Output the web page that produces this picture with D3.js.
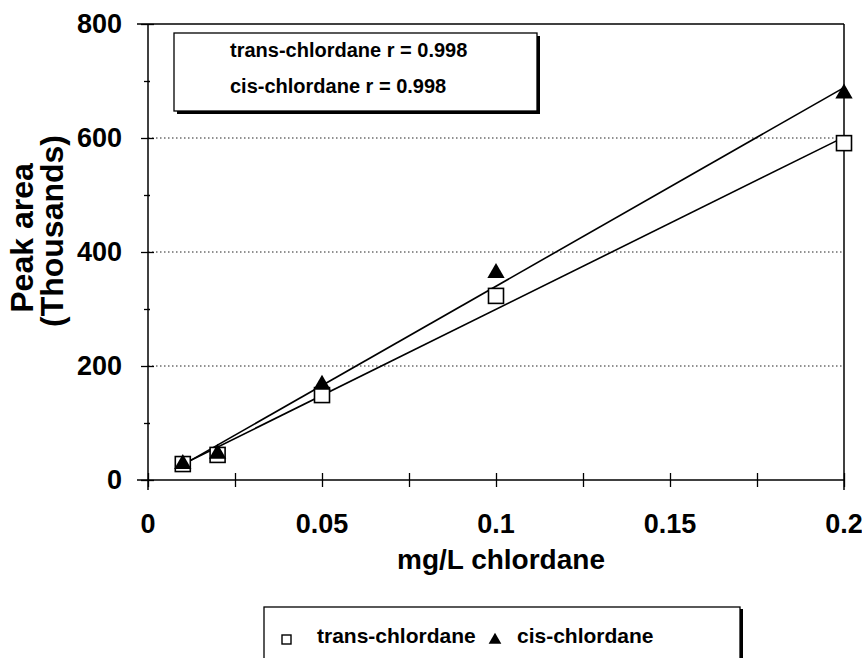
<!DOCTYPE html>
<html>
<head>
<meta charset="utf-8">
<script src="https://cdn.jsdelivr.net/npm/d3@7"></script>
<style>
  html, body { margin: 0; padding: 0; background: #fff; }
  svg { display: block; }
  text { font-family: "Liberation Sans", Arial, sans-serif; fill: #000; }
</style>
</head>
<body>
<svg id="chart" width="862" height="658"></svg>
<script>
// ---- data ----
const concentrations = [0.01, 0.02, 0.05, 0.1, 0.2];
const transValues = [28, 44, 149, 323, 591];
const cisValues = [28, 46, 167, 363, 678];
const seriesNames = ["trans-chlordane", "cis-chlordane"];
const rLabels = ["trans-chlordane r = 0.998", "cis-chlordane r = 0.998"];
const xTickValues = [0, 0.05, 0.1, 0.15, 0.2];
const xTickLabels = ["0", "0.05", "0.1", "0.15", "0.2"];
const xMinorTicks = [0.025, 0.075, 0.125, 0.175];
const yTickValues = [0, 200, 400, 600, 800];
const yTickLabels = ["0", "200", "400", "600", "800"];
const yMinorTicks = [100, 300, 500, 700];
const gridValues = [200, 400, 600];

const svg = d3.select("#chart");
const x = d3.scaleLinear().domain([0, 0.2]).range([148, 844]);
const y = d3.scaleLinear().domain([0, 800]).range([480, 24]);

// least-squares fit for each series
function fit(xs, ys) {
  const mx = d3.mean(xs), my = d3.mean(ys);
  let sxy = 0, sxx = 0;
  xs.forEach((v, i) => { sxy += (v - mx) * (ys[i] - my); sxx += (v - mx) * (v - mx); });
  const b = sxy / sxx;
  return { b, a: my - b * mx };
}

// gridlines (dotted)
svg.append("g").selectAll("line").data(gridValues).join("line")
  .attr("x1", x(0)).attr("x2", x(0.2))
  .attr("y1", d => y(d)).attr("y2", d => y(d))
  .attr("stroke", "#222").attr("stroke-width", 1).attr("stroke-dasharray", "1.5,2.5");

// frame lines: top and right
svg.append("line").attr("x1", x(0) - 11).attr("x2", x(0.2)).attr("y1", y(800)).attr("y2", y(800))
  .attr("stroke", "#000").attr("stroke-width", 1.5);
svg.append("line").attr("x1", x(0.2)).attr("x2", x(0.2)).attr("y1", y(800)).attr("y2", y(0) + 10)
  .attr("stroke", "#000").attr("stroke-width", 1.5);

// x axis: crossing ticks
const xAxisG = svg.append("g").attr("transform", `translate(0,${y(0)})`);
xAxisG.call(d3.axisBottom(x).tickValues(xTickValues.concat(xMinorTicks)).tickSize(7).tickFormat(""));
const xAxisG2 = svg.append("g").attr("transform", `translate(0,${y(0)})`);
xAxisG2.call(d3.axisTop(x).tickValues(xTickValues.concat(xMinorTicks)).tickSize(7).tickFormat(""));
[xAxisG, xAxisG2].forEach(g => {
  g.select(".domain").remove();
  g.selectAll("line").attr("stroke", "#000").attr("stroke-width", 1.3);
});
svg.append("line").attr("x1", x(0) - 11).attr("x2", x(0.2)).attr("y1", y(0)).attr("y2", y(0))
  .attr("stroke", "#000").attr("stroke-width", 1.5);
svg.append("g").selectAll("text").data(xTickValues).join("text")
  .attr("x", d => x(d)).attr("y", 533)
  .attr("text-anchor", "middle")
  .style("font-size", "27px").style("font-weight", "bold")
  .text((d, i) => xTickLabels[i]);

// y axis: crossing ticks
const yAxisL = svg.append("g").attr("transform", `translate(${x(0)},0)`);
yAxisL.call(d3.axisLeft(y).tickValues(yTickValues).tickSize(7).tickFormat(""));
const yAxisR = svg.append("g").attr("transform", `translate(${x(0)},0)`);
yAxisR.call(d3.axisRight(y).tickValues(yTickValues).tickSize(6).tickFormat(""));
const yAxisMinor = svg.append("g").attr("transform", `translate(${x(0)},0)`);
yAxisMinor.call(d3.axisLeft(y).tickValues(yMinorTicks).tickSize(4).tickFormat(""));
const yAxisMinorR = svg.append("g").attr("transform", `translate(${x(0)},0)`);
yAxisMinorR.call(d3.axisRight(y).tickValues(yMinorTicks).tickSize(2).tickFormat(""));
[yAxisL, yAxisR, yAxisMinor, yAxisMinorR].forEach(g => {
  g.select(".domain").remove();
  g.selectAll("line").attr("stroke", "#000").attr("stroke-width", 1.3);
});
svg.append("line").attr("x1", x(0)).attr("x2", x(0)).attr("y1", y(800)).attr("y2", y(0) + 10)
  .attr("stroke", "#000").attr("stroke-width", 1.5);
svg.append("g").selectAll("text").data(yTickValues).join("text")
  .attr("x", 122).attr("y", d => y(d))
  .attr("dy", "0.35em")
  .attr("text-anchor", "end")
  .style("font-size", "27px").style("font-weight", "bold")
  .text((d, i) => yTickLabels[i]);

// axis titles
svg.append("text").attr("x", 397).attr("y", 569)
  .style("font-size", "28px").style("font-weight", "bold").text("mg/L chlordane");
svg.append("text").attr("transform", "translate(33,238) rotate(-90)")
  .attr("text-anchor", "middle")
  .style("font-size", "32px").style("font-weight", "bold").text("Peak area");
svg.append("text").attr("transform", "translate(63,231) rotate(-90)")
  .attr("text-anchor", "middle")
  .style("font-size", "32px").style("font-weight", "bold").text("(Thousands)");

// regression lines
const fits = [fit(concentrations, transValues), fit(concentrations, cisValues)];
const xMin = d3.min(concentrations), xMax = d3.max(concentrations);
svg.append("g").selectAll("line").data(fits).join("line")
  .attr("x1", x(xMin)).attr("y1", f => y(f.a + f.b * xMin))
  .attr("x2", x(xMax)).attr("y2", f => y(f.a + f.b * xMax))
  .attr("stroke", "#000").attr("stroke-width", 1.6);

// markers
const sq = 15;
svg.append("g").selectAll("rect").data(concentrations).join("rect")
  .attr("x", d => x(d) - sq / 2).attr("y", (d, i) => y(transValues[i]) - sq / 2)
  .attr("width", sq).attr("height", sq)
  .attr("fill", "#fff").attr("stroke", "#000").attr("stroke-width", 1.6);
const tri = d3.symbol().type(d3.symbolTriangle).size(130);
svg.append("g").selectAll("path").data(concentrations).join("path")
  .attr("d", tri)
  .attr("transform", (d, i) => `translate(${x(d)},${y(cisValues[i])})`)
  .attr("fill", "#000");

// r-value box with shadow
svg.append("rect").attr("x", 177).attr("y", 36).attr("width", 363).attr("height", 78).attr("fill", "#000");
svg.append("rect").attr("x", 174).attr("y", 33).attr("width", 363).attr("height", 78)
  .attr("fill", "#fff").attr("stroke", "#000").attr("stroke-width", 1.3);
svg.append("g").selectAll("text").data(rLabels).join("text")
  .attr("x", 230).attr("y", (d, i) => 57 + i * 36)
  .style("font-size", "20px").style("font-weight", "bold")
  .text(d => d);

// legend box
svg.append("rect").attr("x", 267).attr("y", 609).attr("width", 476).attr("height", 70).attr("fill", "#000");
svg.append("rect").attr("x", 264).attr("y", 607).attr("width", 476).attr("height", 70)
  .attr("fill", "#fff").attr("stroke", "#000").attr("stroke-width", 1.3);
svg.append("rect").attr("x", 282).attr("y", 635).attr("width", 9).attr("height", 9)
  .attr("fill", "#fff").attr("stroke", "#000").attr("stroke-width", 1.4);
svg.append("path").attr("d", d3.symbol().type(d3.symbolTriangle).size(70))
  .attr("transform", "translate(495,640)").attr("fill", "#000");
svg.append("text").attr("x", 317).attr("y", 643)
  .style("font-size", "21px").style("font-weight", "bold").text(seriesNames[0]);
svg.append("text").attr("x", 517).attr("y", 643)
  .style("font-size", "21px").style("font-weight", "bold").text(seriesNames[1]);
</script>
</body>
</html>
